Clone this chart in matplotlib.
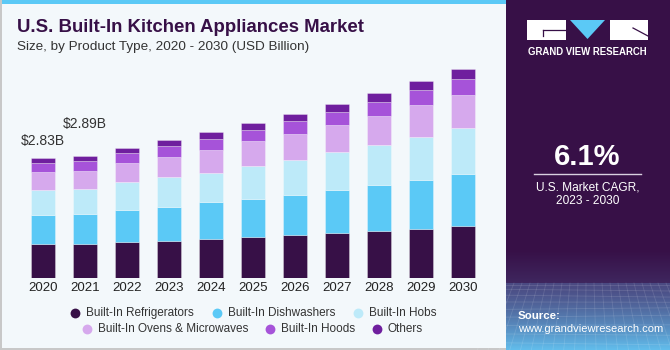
import matplotlib
matplotlib.use("Agg")
import matplotlib.pyplot as plt
import numpy as np
from matplotlib.patches import Rectangle, Polygon

plt.rcParams['font.family'] = ['Liberation Sans', 'DejaVu Sans']

years = ['2020', '2021', '2022', '2023', '2024', '2025', '2026', '2027', '2028', '2029', '2030']
refrigerators = [0.81, 0.80, 0.85, 0.88, 0.93, 0.97, 1.03, 1.08, 1.11, 1.16, 1.24]
dishwashers   = [0.69, 0.71, 0.77, 0.81, 0.87, 0.89, 0.94, 1.00, 1.08, 1.15, 1.22]
hobs          = [0.58, 0.59, 0.64, 0.71, 0.69, 0.79, 0.83, 0.89, 0.95, 1.03, 1.08]
ovens         = [0.42, 0.44, 0.46, 0.47, 0.54, 0.58, 0.61, 0.65, 0.69, 0.74, 0.79]
hoods         = [0.21, 0.22, 0.23, 0.25, 0.26, 0.27, 0.29, 0.31, 0.33, 0.35, 0.37]
others        = [0.12, 0.13, 0.13, 0.15, 0.17, 0.17, 0.18, 0.19, 0.21, 0.22, 0.23]
series_names = ['Built-In Refrigerators', 'Built-In Dishwashers', 'Built-In Hobs',
                'Built-In Ovens & Microwaves', 'Built-In Hoods', 'Others']
series = [refrigerators, dishwashers, hobs, ovens, hoods, others]
colors = ['#371047', '#5bc9f6', '#bdeaf9', '#d6a9ed', '#a653d9', '#6f1f9e']
annot_years = ['2020', '2021']
annot_labels = ['$2.83B', '$2.89B']

W, H = 670, 350
fig = plt.figure(figsize=(6.7, 3.5), dpi=100)
fig.patch.set_facecolor('#f3f8fb')

def fx(px):
    return px / W
def fy(py):
    return 1 - py / H

# background decorations
bg = fig.add_axes([0, 0, 1, 1])
bg.set_xlim(0, W); bg.set_ylim(H, 0); bg.axis('off')
bg.add_patch(Rectangle((0, 0), 506, 4, color='#5bc9f6', lw=0))
bg.add_patch(Rectangle((0, 0), 1.5, H, color='#c8c8c8', lw=0))
bg.add_patch(Rectangle((0, 347.5), 506, 2.5, color='#c8c8c8', lw=0))
# right panel with gradient
n = 350
img = np.zeros((n, 1, 3))
c_top = np.array([0x37, 0x10, 0x47]) / 255
c_hz1 = np.array([0x3f, 0x27, 0x5f]) / 255
c_hz2 = np.array([0x4b, 0x4a, 0x82]) / 255
c_bot = np.array([0x62, 0xbf, 0xee]) / 255
for i in range(n):
    y = i * H / n
    if y < 250:
        c = c_top
    elif y < 283:
        s = (y - 250) / 33
        c = c_top * (1 - s) + c_hz1 * s
    else:
        s = ((y - 283) / 67) ** 1.3
        c = c_hz2 * (1 - s) + c_bot * s
    img[i, 0] = c
bg.imshow(img, extent=[506, W, H, 0], aspect='auto', zorder=1)
# faint perspective grid in lower part
for k in range(11):
    yy = 285 + (k ** 1.25) * 4.3
    bg.plot([506, W], [yy, yy + np.sin(k) * 2], color='white', alpha=0.13, lw=0.6, zorder=2)
for k in range(22):
    xx = 506 + k * 8
    bg.plot([xx, xx + (xx - 588) * 0.35], [283, H], color='white', alpha=0.12, lw=0.6, zorder=2)

# logo
bg.add_patch(Rectangle((527, 20), 38.5, 20, color='white', lw=0, zorder=3))
bg.plot([543, 565.5], [30, 30], color='#371047', lw=0.9, zorder=4)
bg.plot([543, 543], [30, 36], color='#371047', lw=0.9, zorder=4)
bg.add_patch(Polygon([(570, 20), (605, 20), (587.5, 39)], closed=True, color='#5bc9f6', lw=0, zorder=3))
bg.add_patch(Rectangle((610, 20), 38, 20, color='white', lw=0, zorder=3))
bg.plot([633, 648], [28, 36], color='#371047', lw=0.9, zorder=4)
bg.text(587.8, 51.7, 'GRAND VIEW RESEARCH', color='white', fontsize=6.9,
        fontweight='bold', ha='center', va='center', zorder=4)
bg.text(587.5, 157, '6.1%', color='white', fontsize=21, fontweight='bold',
        ha='center', va='center', zorder=4)
bg.plot([534, 641], [173.5, 173.5], color='#d8d0e0', lw=1, zorder=4)
bg.text(587.5, 187, 'U.S. Market CAGR,', color='white', fontsize=8.6, ha='center', va='center', zorder=4)
bg.text(587.5, 201, '2023 - 2030', color='white', fontsize=8.6, ha='center', va='center', zorder=4)
bg.text(518, 316, 'Source:', color='white', fontsize=8.2, fontweight='bold', ha='left', va='center', zorder=4)
bg.text(518, 329.5, 'www.grandviewresearch.com', color='white', fontsize=8.0, ha='left', va='center', zorder=4)

# titles
bg.text(17, 28, 'U.S. Built-In Kitchen Appliances Market', color='#371047', fontsize=13.4,
        fontweight='bold', ha='left', va='center')
bg.text(17, 47, 'Size, by Product Type, 2020 - 2030 (USD Billion)', color='#333333', fontsize=9.7,
        ha='left', va='center')

# chart axes
base_px = 278.3
px_per_b = 42.4
ymax = 5.2
ax = fig.add_axes([fx(22), fy(base_px), fx(484) - fx(22), ymax * px_per_b / H])
ax.set_facecolor('none')
x = np.arange(len(years))
bottom = np.zeros(len(years))
for vals, col in zip(series, colors):
    ax.bar(x, vals, bottom=bottom, width=0.57, color=col, edgecolor=(1, 1, 1, 0.35), linewidth=0.6)
    bottom += np.array(vals)
totals = bottom
for yr, lab in zip(annot_years, annot_labels):
    i = years.index(yr)
    ax.text(x[i], totals[i] + 0.25 + (0.33 if i == 1 else 0), lab, ha='center', va='bottom',
            fontsize=10, color='#333333')
ax.set_xlim(-0.5, len(years) - 0.5)
ax.set_ylim(0, ymax)
ax.set_xticks(x)
ax.set_xticklabels(years, fontsize=9.5, color='#222222')
ax.tick_params(axis='x', length=0, pad=3)
ax.set_yticks([])
for s in ax.spines.values():
    s.set_visible(False)

# legend (manual, two centered rows)
row1 = [(75, 0), (217, 1), (358, 2)]
row2 = [(87, 3), (270, 4), (377, 5)]
for ypx, row in [(313, row1), (329, row2)]:
    for xpx, idx in row:
        bg.scatter([xpx], [ypx], s=50, color=colors[idx], zorder=5, lw=0)
        bg.text(xpx + 11, ypx, series_names[idx], fontsize=8.5, color='#333333',
                ha='left', va='center')

fig.savefig('out.png', dpi=100, facecolor=fig.get_facecolor())
